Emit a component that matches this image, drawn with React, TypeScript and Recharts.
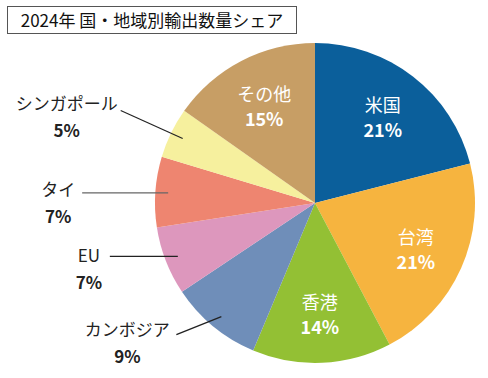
import { PieChart, Pie, Cell } from 'recharts'

const names = ['米国', '台湾', '香港', 'カンボジア', 'EU', 'タイ', 'シンガポール', 'その他']
const shares = [21.0, 21.2, 14.0, 9.3, 6.9, 7.1, 5.1, 15.2]
const colors = ['#0b5f9b', '#f6b43f', '#93c034', '#6f8eb9', '#dd97bd', '#ee8570', '#f6f09e', '#c79e65']
const title = '2024年 国・地域別輸出数量シェア'

const data = names.map((name, i) => ({ name, value: shares[i] }))

const RADIAN = Math.PI / 180
const FONT = '"Noto Sans CJK JP", "Noto Sans", sans-serif'

// where the outside labels sit: line end relative to the slice point, text centre relative to line end
const outsideLayout: Record<string, { ex: number; ey: number; tx: number; ty: number; stroke: string }> = {
  'シンガポール': { ex: -62, ey: -28, tx: -54, ty: -8, stroke: '#222' },
  'タイ': { ex: -86, ey: 0, tx: -24, ty: -4, stroke: '#666' },
  'EU': { ex: -68, ey: 0, tx: -21, ty: -2, stroke: '#222' },
  'カンボジア': { ex: -45, ey: 18, tx: -49, ty: -6, stroke: '#222' },
}

const renderLabel = (props: any) => {
  const { cx, cy, midAngle, outerRadius, percent, name } = props
  const cos = Math.cos(-midAngle * RADIAN)
  const sin = Math.sin(-midAngle * RADIAN)
  const pct = `${Math.round(percent * 100)}%`
  const layout = outsideLayout[name]

  if (layout) {
    const sx = cx + outerRadius * 0.92 * cos
    const sy = cy + outerRadius * 0.92 * sin
    const ex = sx + layout.ex
    const ey = sy + layout.ey
    const tx = ex + layout.tx
    const ty = ey + layout.ty
    return (
      <g>
        <line x1={sx} y1={sy} x2={ex} y2={ey} stroke={layout.stroke} strokeWidth={1.2} />
        <text x={tx} y={ty} textAnchor="middle" dominantBaseline="central" fill="#222" fontSize={17} fontFamily={FONT}>
          {name}
        </text>
        <text x={tx} y={ty + 27} textAnchor="middle" dominantBaseline="central" fill="#222" fontSize={17} fontWeight={700} fontFamily={FONT}>
          {pct}
        </text>
      </g>
    )
  }

  const r = outerRadius * 0.69
  const x = cx + r * cos
  const y = cy + r * sin
  return (
    <g>
      <text x={x} y={y - 12} textAnchor="middle" dominantBaseline="central" fill="#fff" fontSize={18} fontFamily={FONT}>
        {name}
      </text>
      <text x={x} y={y + 13} textAnchor="middle" dominantBaseline="central" fill="#fff" fontSize={18} fontWeight={700} fontFamily={FONT}>
        {pct}
      </text>
    </g>
  )
}

export default function App() {
  return (
    <div style={{ position: 'absolute', left: 0, top: 0, width: 488, height: 378, background: '#fff' }}>
      <div
        style={{
          position: 'absolute',
          left: 7,
          top: 6,
          width: 288,
          height: 26,
          border: '1.5px solid #555',
          fontFamily: FONT,
          fontSize: 17,
          lineHeight: '26px',
          textAlign: 'center',
          color: '#111',
          zIndex: 1,
          background: '#fff',
        }}
      >
        {title}
      </div>
      <PieChart width={488} height={378} margin={{ top: 0, right: 0, bottom: 0, left: 0 }}>
        <Pie
          data={data}
          dataKey="value"
          nameKey="name"
          cx={315}
          cy={203}
          outerRadius={160}
          startAngle={90}
          endAngle={-270}
          stroke="none"
          label={renderLabel}
          labelLine={false}
          isAnimationActive={false}
        >
          {data.map((d, i) => (
            <Cell key={d.name} fill={colors[i]} />
          ))}
        </Pie>
      </PieChart>
    </div>
  )
}
